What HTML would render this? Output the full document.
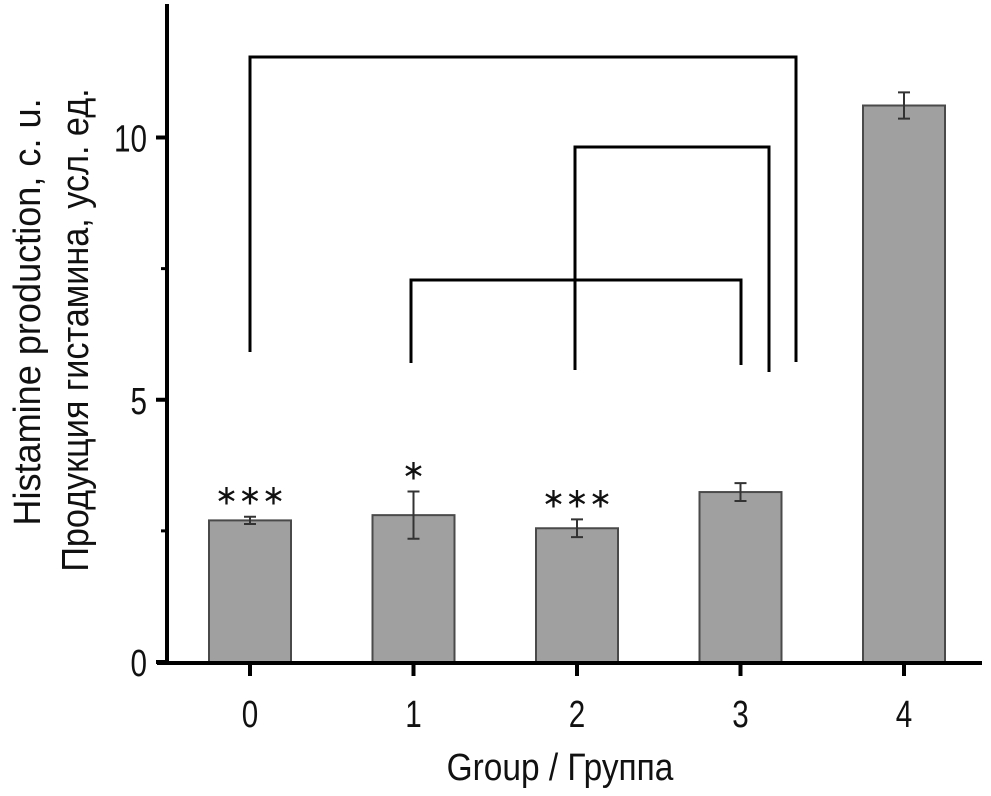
<!DOCTYPE html>
<html><head><meta charset="utf-8"><style>
html,body{margin:0;padding:0;background:#fff}
svg text{font-family:"Liberation Sans Narrow","Liberation Sans",sans-serif;fill:#111}
</style></head><body>
<svg id="c" width="991" height="791" viewBox="0 0 991 791">
</svg>
<script>
const categories = ["0","1","2","3","4"];
const values = [2.70, 2.80, 2.55, 3.24, 10.61];
const errors = [0.07, 0.45, 0.17, 0.17, 0.25];
const sigLabels = ["***","*","***","",""];
const yTicks = [0,5,10];
const NS="http://www.w3.org/2000/svg";
const svg=document.getElementById('c');
const y0=662, unit=52.45;
const yS=v=>y0-v*unit;
const xS=i=>250+i*163.5;
function el(t,a){const e=document.createElementNS(NS,t);for(const k in a)e.setAttribute(k,a[k]);svg.appendChild(e);return e;}
function txt(s,x,y,size,anchor,rot,sx){
  const tr=`translate(${x},${y})`+(rot?` rotate(${rot})`:'')+` scale(${sx||0.78},1)`;
  const e=el('text',{x:0,y:0,'text-anchor':anchor,'font-size':size,transform:tr});
  e.textContent=s;return e;
}
categories.forEach((c,i)=>{
  const x=xS(i), top=yS(values[i]);
  const b=el('rect',{x:x-41,y:top,width:82,height:y0-top,fill:'#a0a0a0',stroke:'#4a4a4a','stroke-width':2});
  
  
  const e1=yS(values[i]+errors[i]), e2=yS(values[i]-errors[i]);
  const eb=el('path',{d:`M${x} ${e1}V${e2}M${x-6} ${e1}H${x+6}M${x-6} ${e2}H${x+6}`,stroke:'#333','stroke-width':2,fill:'none'});
  
  
  if(sigLabels[i]){
    const s=el('text',{x:x,y:e1-12,'text-anchor':'middle','font-size':28,'font-family':'DejaVu Sans, sans-serif'});
    s.textContent=sigLabels[i].replace(/\*/g,'\u2217');
    
    
  }
  const t=el('path',{d:`M${x} 662V676`,stroke:'#000','stroke-width':4});
  
  
  const l=txt(c,x,727,38,'middle');
  
  
});
const ax=el('path',{d:'M167 4V664M157 663H982',stroke:'#000','stroke-width':4,fill:'none'});


yTicks.forEach(v=>{
  const t=el('path',{d:`M156 ${yS(v)}H167`,stroke:'#000','stroke-width':4});
  
  
  const l=txt(String(v),147,yS(v)+14,38,'end');
  
  
});
[2.5,7.5].forEach(v=>{
  const t=el('path',{d:`M161 ${yS(v)}H167`,stroke:'#000','stroke-width':3});
  
  
});
const br=[[250,352,796,362,57],[575,370,769,372,147],[411,363,741,365,280]];
br.forEach((b,i)=>{
  const p=el('path',{d:`M${b[0]} ${b[1]}V${b[4]}H${b[2]}V${b[3]}`,stroke:'#000','stroke-width':3,fill:'none'});
  
  
});
const xt=txt('Group / Группа',560,780,38,'middle',0,0.88);


const yt1=txt('Histamine production, c. u.',40,312,38,'middle',-90,0.95);


const yt2=txt('Продукция гистамина, усл. ед.',88,330,38,'middle',-90,0.9);


</script>
</body></html>
